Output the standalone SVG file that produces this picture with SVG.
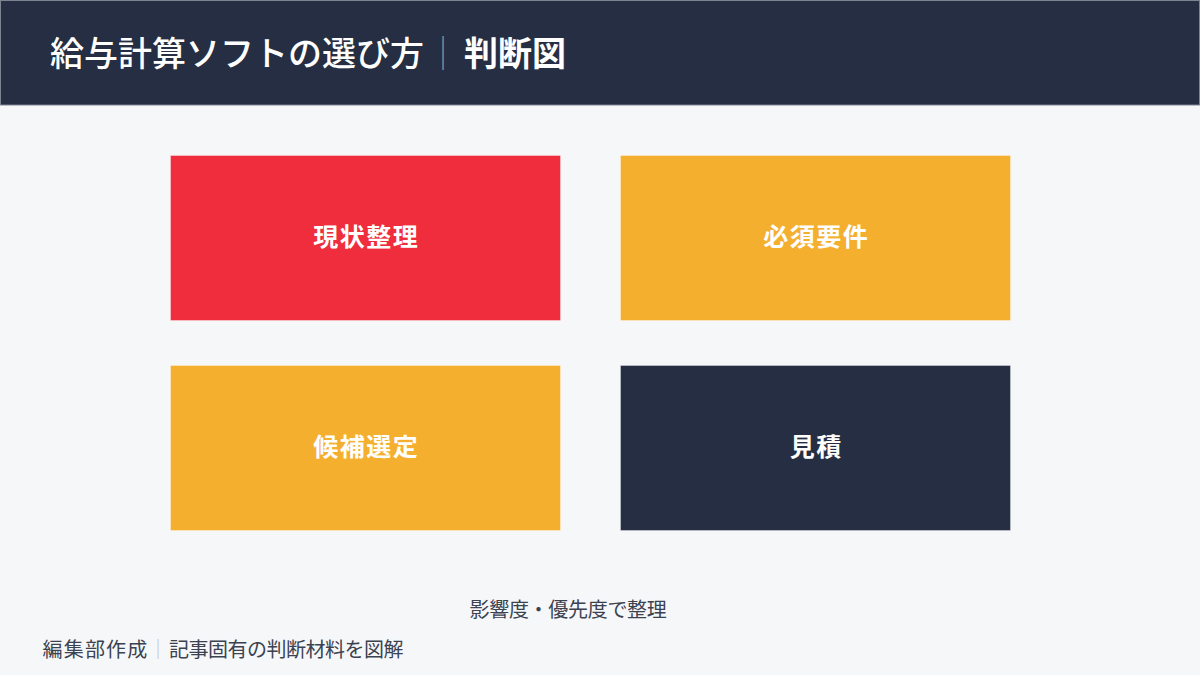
<svg xmlns="http://www.w3.org/2000/svg" width="1200" height="675" viewBox="0 0 1200 675">
  <style>
    .jp { font-family: "Noto Sans CJK JP", "Noto Sans", sans-serif; }
    .box { stroke: #ffffff; stroke-opacity: 0.35; stroke-width: 1; }
    .lbl { font-size: 25px; font-weight: 700; fill: #ffffff; text-anchor: middle; letter-spacing: 1.5px; }
    .note { font-size: 20px; fill: #3b4250; }
  </style>
  <rect x="0" y="0" width="1200" height="675" fill="#F6F7F9"/>
  <g id="header">
    <rect x="0.5" y="0.5" width="1199" height="104.5" fill="#252E42" stroke="#7d8391" stroke-width="1"/>
    <text class="jp" y="66" font-size="34" fill="#ffffff"><tspan x="50" font-weight="500">給与計算ソフトの選び方</tspan><tspan x="426" fill="#8b909c" font-weight="300">｜</tspan><tspan x="464" font-weight="700">判断図</tspan></text>
  </g>
  <g id="connectors"></g>
  <g id="node-genjo">
    <rect class="box" x="170.5" y="155.5" width="390" height="165" fill="#F02D3D"/>
    <text class="jp lbl" x="366.2" y="245.5">現状整理</text>
  </g>
  <g id="node-hissu">
    <rect class="box" x="620.5" y="155.5" width="390" height="165" fill="#F5AF2F"/>
    <text class="jp lbl" x="816.2" y="245.5">必須要件</text>
  </g>
  <g id="node-kouho">
    <rect class="box" x="170.5" y="365.5" width="390" height="165" fill="#F5AF2F"/>
    <text class="jp lbl" x="366.2" y="455.5">候補選定</text>
  </g>
  <g id="node-mitsumori">
    <rect class="box" x="620.5" y="365.5" width="390" height="165" fill="#252E42"/>
    <text class="jp lbl" x="816.2" y="455.5">見積</text>
  </g>
  <g id="caption">
    <text class="jp note" x="568" y="617" font-size="19.5" letter-spacing="-0.3" text-anchor="middle">影響度・優先度で整理</text>
  </g>
  <g id="footer">
    <text class="jp note" y="657"><tspan x="42.5" letter-spacing="1.2">編集部作成</tspan><tspan x="148" fill="#c3c7cf">｜</tspan><tspan x="169" letter-spacing="-0.5">記事固有の判断材料を図解</tspan></text>
  </g>
</svg>
